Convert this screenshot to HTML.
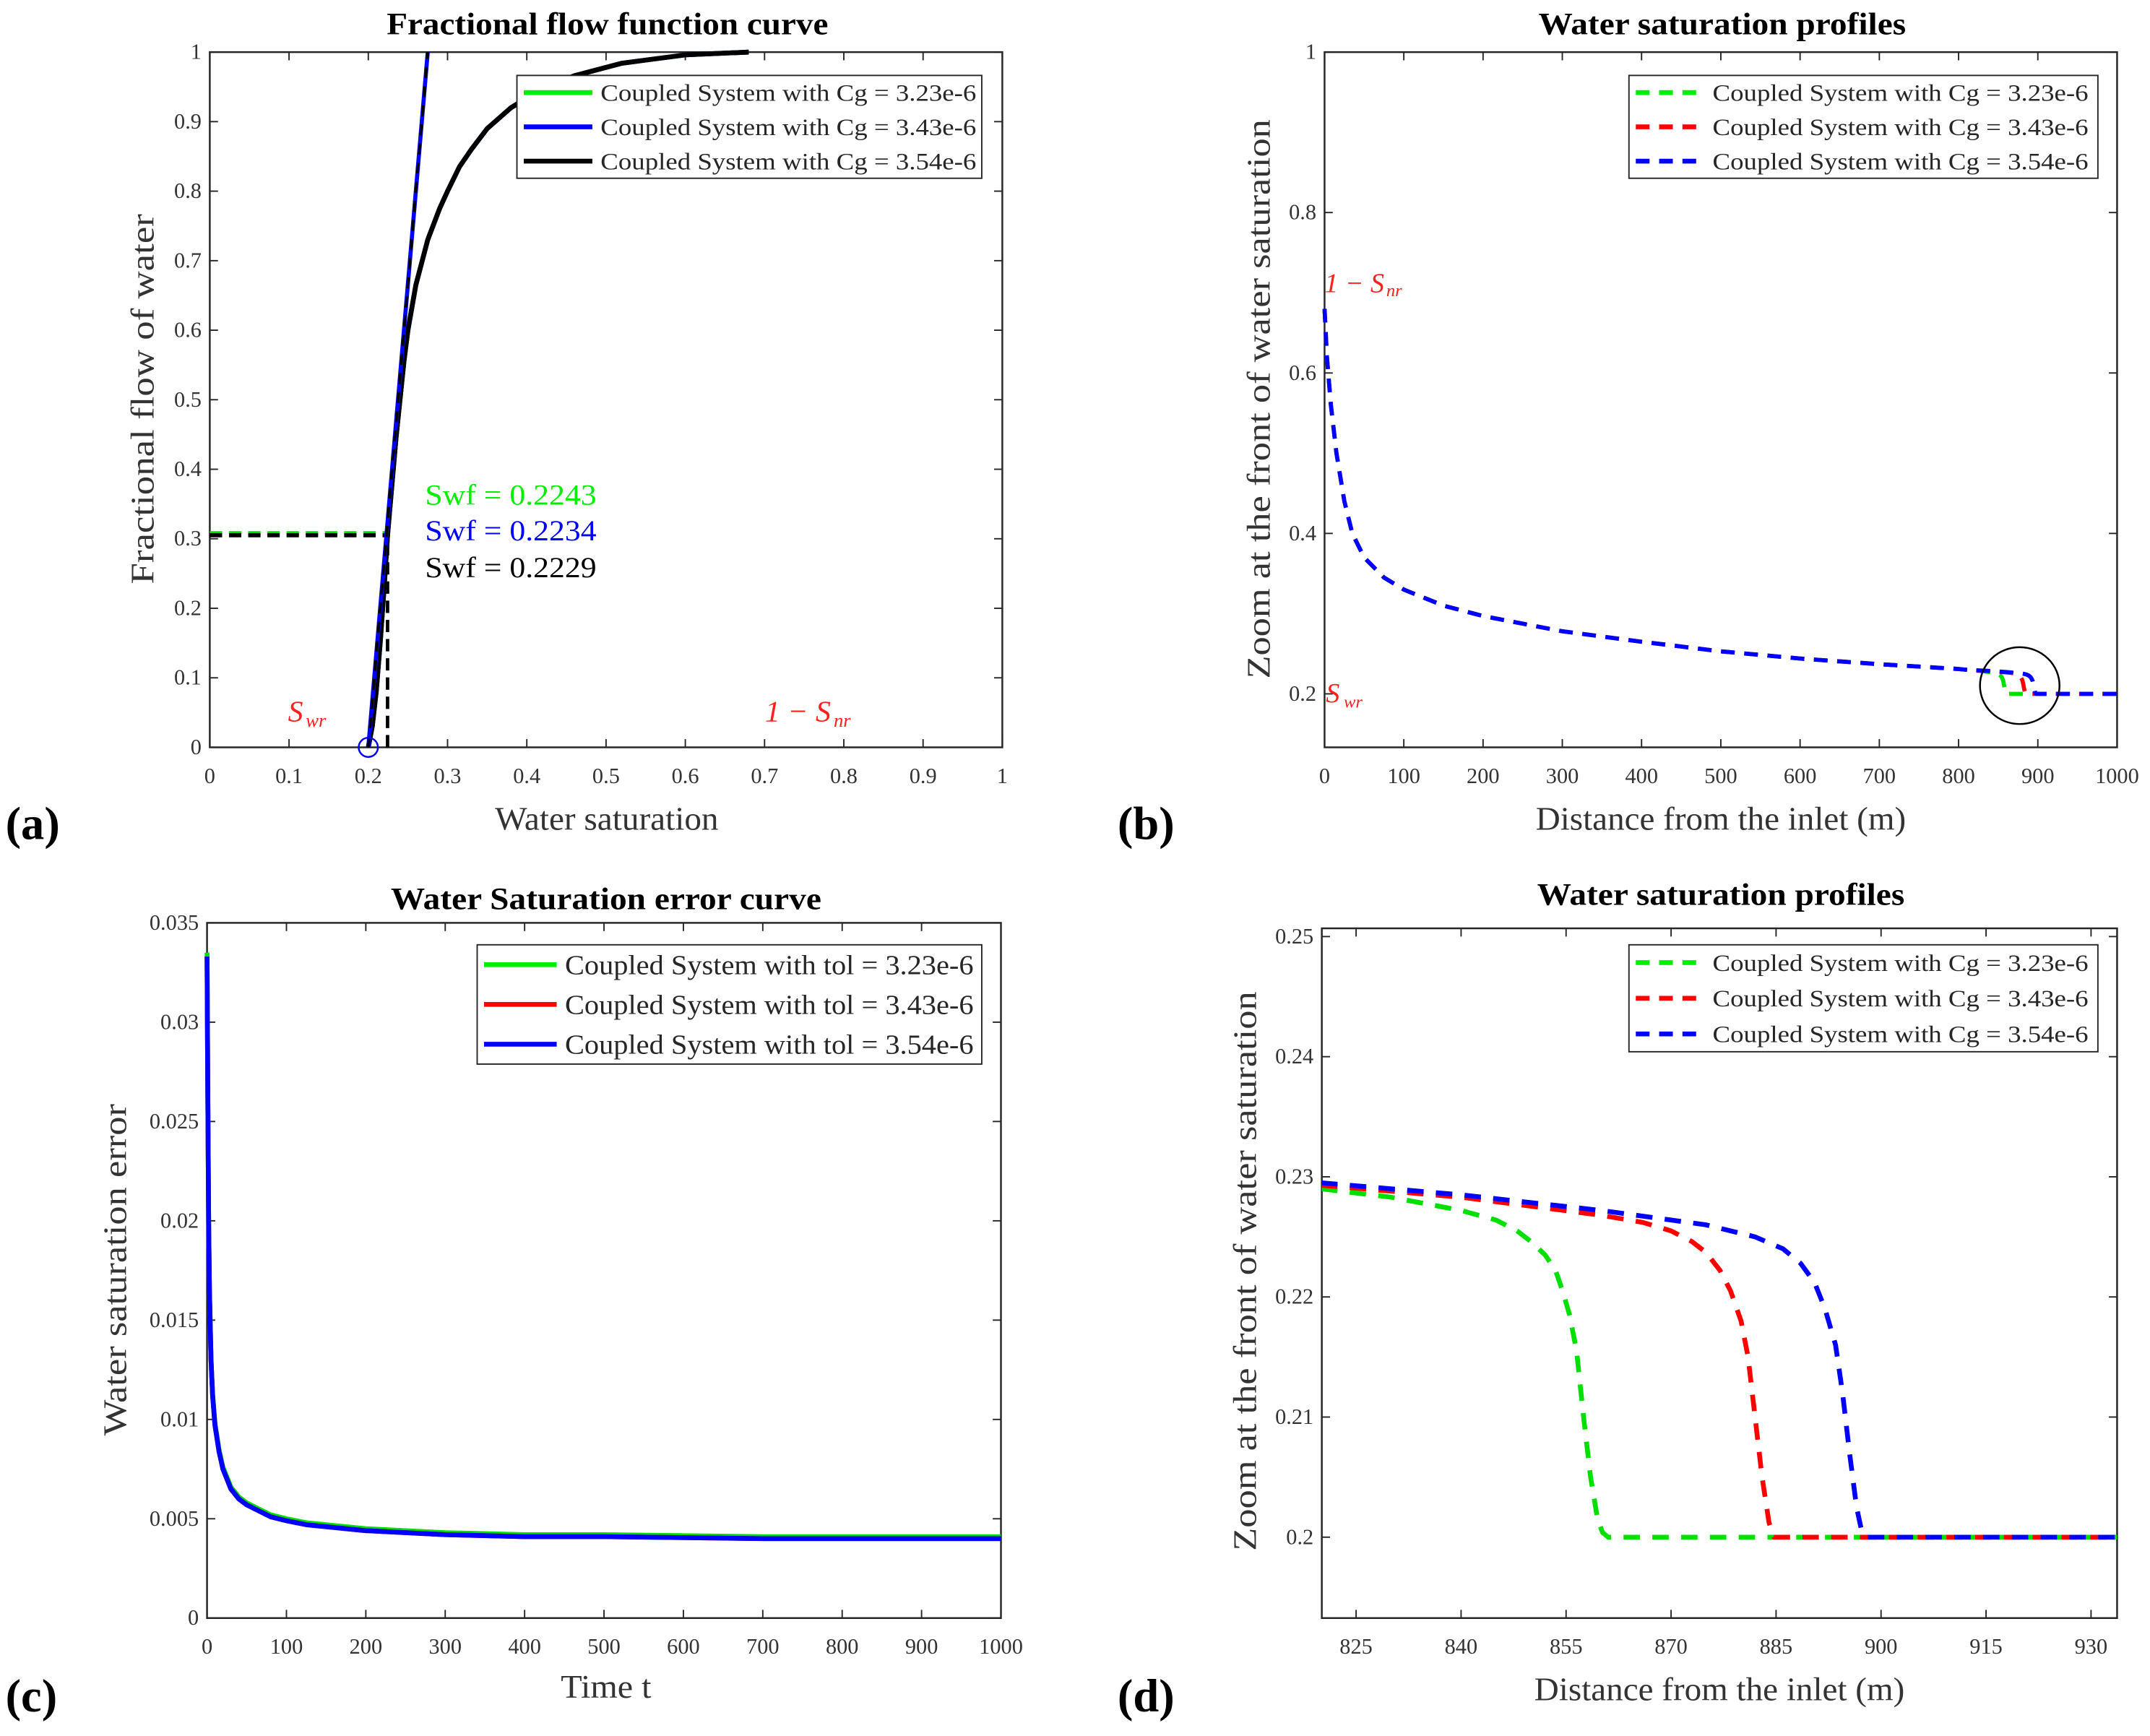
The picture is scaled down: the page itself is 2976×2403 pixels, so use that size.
<!DOCTYPE html>
<html><head><meta charset="utf-8"><style>
html,body{margin:0;padding:0;background:#fff;}
svg{display:block;}
text{font-family:"Liberation Serif",serif;}
</style></head><body>
<svg id="fig" xmlns="http://www.w3.org/2000/svg" width="2976" height="2403" viewBox="0 0 1568 1266" preserveAspectRatio="none"></svg>
<script>
// ---------- data ----------
const fracSw = [0.2,0.205,0.21,0.215,0.22,0.2243,0.23,0.235,0.24,0.245,0.25,0.26,0.275,0.29,0.3,0.315,0.33,0.35,0.38,0.42,0.46,0.52,0.6,0.68];
const fracFw = [0,0.03,0.08,0.15,0.23,0.305,0.38,0.445,0.5,0.555,0.6,0.665,0.73,0.775,0.8,0.835,0.86,0.89,0.92,0.948,0.966,0.984,0.996,1.0];
const tangentSw = [0.2,0.275];
const tangentFw = [0,1];
const swfValues = [0.2243,0.2234,0.2229];
const fwAtFront = 0.305;

const profX = [0,3,8,15,25,35,50,75,100,150,200,300,400,500,600,700,800,820];
const profY = [0.68,0.62,0.56,0.5,0.44,0.40,0.37,0.345,0.33,0.31,0.297,0.278,0.265,0.253,0.244,0.237,0.231,0.229];

const greenX = [820,830,840,845,848,850,852,853.5,854.5,855.5,856.5,857.5,858.5,859.5,860.2,861,1000];
const greenY = [0.2290,0.2283,0.2272,0.2264,0.2255,0.2246,0.2235,0.2222,0.2205,0.2185,0.2155,0.2100,0.2050,0.2015,0.2004,0.2,0.2];
const redX = [820,840,860,866,870,873,875,877,878.5,880,881,882,883,884,884.7,1000];
const redY = [0.2293,0.2283,0.2268,0.2262,0.2255,0.2246,0.2237,0.2222,0.2205,0.2180,0.2150,0.2100,0.2050,0.2012,0.2,0.2];
const blueX = [820,840,860,875,882,886,888.5,890.5,892,893.5,894.5,895.5,896.5,897.2,898,1000];
const blueY = [0.2295,0.2285,0.2272,0.2260,0.2250,0.2240,0.2228,0.2212,0.2190,0.2160,0.2120,0.2070,0.2025,0.2006,0.2,0.2];

const errT = [0,1,2,3,5,7,10,15,20,30,40,50,65,80,100,125,150,200,250,300,400,500,700,1000];
const errGreen = [0.0335,0.026,0.02,0.0165,0.013,0.0113,0.0098,0.0085,0.0076,0.0066,0.0061,0.0058,0.0055,0.0052,0.0050,0.0048,0.0047,0.0045,0.0044,0.0043,0.0042,0.0042,0.0041,0.0041];
const errRed = [0.0333,0.026,0.02,0.0165,0.013,0.0112,0.0097,0.0084,0.0075,0.0065,0.0060,0.0057,0.0054,0.0051,0.0049,0.0047,0.0046,0.0044,0.0043,0.0042,0.0041,0.0041,0.0040,0.0040];
const errBlue = [0.0333,0.026,0.02,0.0165,0.013,0.0112,0.0097,0.0084,0.0075,0.0065,0.0060,0.0057,0.0054,0.0051,0.0049,0.0047,0.0046,0.0044,0.0043,0.0042,0.0041,0.0041,0.0040,0.0040];

const ticksA = [0,0.1,0.2,0.3,0.4,0.5,0.6,0.7,0.8,0.9,1];
const ticksBx = [0,100,200,300,400,500,600,700,800,900,1000];
const ticksBy = [0.2,0.4,0.6,0.8,1];
const ticksCx = [0,100,200,300,400,500,600,700,800,900,1000];
const ticksCy = [0,0.005,0.01,0.015,0.02,0.025,0.03,0.035];
const ticksCyLbl = ['0','0.005','0.01','0.015','0.02','0.025','0.03','0.035'];
const ticksDx = [825,840,855,870,885,900,915,930];
const ticksDy = [0.2,0.21,0.22,0.23,0.24,0.25];

// ---------- helpers ----------
const NS='http://www.w3.org/2000/svg';
const svg=document.getElementById('fig');
function el(tag,attrs,parent){const e=document.createElementNS(NS,tag);for(const k in attrs)e.setAttribute(k,attrs[k]);(parent||svg).appendChild(e);return e;}
function txt(s,attrs,parent){const e=el('text',attrs,parent);e.textContent=s;return e;}
function scale(d0,d1,r0,r1){return v=>r0+(v-d0)/(d1-d0)*(r1-r0);}
function pathD(xs,ys,sx,sy){return xs.map((x,i)=>(i?'L':'M')+sx(x).toFixed(2)+','+sy(ys[i]).toFixed(2)).join('');}

function axes(box,sx,sy,xt,xl,yt,yl,name){
  const g=el('g',{});
  
  
  const r=el('rect',{x:box.l,y:box.t,width:box.r-box.l,height:box.b-box.t,fill:'none',stroke:'#262626','stroke-width':1.3},g);
  
  
  xt.forEach((v,i)=>{const x=sx(v);
    el('line',{x1:x,y1:box.b,x2:x,y2:box.b-6,stroke:'#262626','stroke-width':1},g);
    el('line',{x1:x,y1:box.t,x2:x,y2:box.t+6,stroke:'#262626','stroke-width':1},g);
    const t=txt(xl[i],{x:x,y:box.b+26,'font-size':16,'text-anchor':'middle',fill:'#333'},g);
    
    
  });
  yt.forEach((v,i)=>{const y=sy(v);
    el('line',{x1:box.l,y1:y,x2:box.l+6,y2:y,stroke:'#262626','stroke-width':1},g);
    el('line',{x1:box.r,y1:y,x2:box.r-6,y2:y,stroke:'#262626','stroke-width':1},g);
    const t=txt(yl[i],{x:box.l-6,y:y+5,'font-size':16,'text-anchor':'end',fill:'#333'},g);
    
    
  });
}
function series(xs,ys,sx,sy,color,dash,w,name){
  const p=el('path',{d:pathD(xs,ys,sx,sy),fill:'none',stroke:color,'stroke-width':w,'stroke-dasharray':dash||'none','stroke-linejoin':'round'});
  
  
  return p;
}
function legend(x,y,w,h,rows,lineLen,fs,tl,dash,name){
  const g=el('g',{});
  
  
  el('rect',{x:x,y:y,width:w,height:h,fill:'#fff',stroke:'#262626','stroke-width':1},g);
  const rh=h/rows.length;
  rows.forEach((r,i)=>{const cy=y+rh*(i+0.5);
    el('line',{x1:x+5,y1:cy,x2:x+5+lineLen,y2:cy,stroke:r[0],'stroke-width':3.5,'stroke-dasharray':dash||'none'},g);
    const t=txt(r[1],{x:x+11+lineLen,y:cy+fs*0.35,'font-size':fs,fill:'#262626',textLength:tl,lengthAdjust:'spacingAndGlyphs'},g);
    
    
  });
}
function label(s,attrs,name){const t=txt(s,attrs);return t;}
const TL={lengthAdjust:'spacingAndGlyphs'};
function A(o){return Object.assign({},TL,o);}

// ---------- panel a ----------
(function(){
  const box={l:153,r:731,t:38,b:545};
  const sx=scale(0,1,box.l,box.r), sy=scale(0,1,box.b,box.t);
  axes(box,sx,sy,ticksA,ticksA.map(String),ticksA,ticksA.map(String),'panel-a');
  series([0,swfValues[0]],[fwAtFront+0.003,fwAtFront+0.003],sx,sy,'#00e000','9,5',3,'front-line-green');
  series([0,swfValues[2]],[fwAtFront,fwAtFront],sx,sy,'#000','9,5',3,'front-line-black');
  series([swfValues[0],swfValues[0]],[0,fwAtFront],sx,sy,'#000','9,5',2.5,'swf-vertical-line');
  series(fracSw,fracFw,sx,sy,'#00e000','',3.5,'frac-flow-green');
  series(fracSw,fracFw,sx,sy,'#0000ff','',3.5,'frac-flow-blue');
  series(fracSw,fracFw,sx,sy,'#000','',3.5,'frac-flow-black');
  series(tangentSw,tangentFw,sx,sy,'#0000ff','',3,'tangent-blue');
  series(tangentSw,tangentFw,sx,sy,'#000','8,6',2,'tangent-black');
  const c=el('circle',{cx:sx(0.2),cy:sy(0),r:7,fill:'none',stroke:'#0000ff','stroke-width':1.3});
  
  
  label('Fractional flow function curve',A({x:282,y:25,'font-size':23,'font-weight':'bold',fill:'#000',textLength:322}),'panel-a-title');
  label('Water saturation',A({x:361,y:605,'font-size':24,fill:'#333',textLength:163}),'panel-a-x-axis-title');
  label('Fractional flow of water',A({x:0,y:0,'font-size':24,'text-anchor':'middle',fill:'#333',textLength:270,transform:'translate(112,291) rotate(-90)'}),'panel-a-y-axis-title');
  label('Swf = 0.2243',A({x:310,y:368,'font-size':21,fill:'#00ee00',textLength:125}),'swf-green-label');
  label('Swf = 0.2234',A({x:310,y:394,'font-size':21,fill:'#0000ff',textLength:125}),'swf-blue-label');
  label('Swf = 0.2229',A({x:310,y:421,'font-size':21,fill:'#000',textLength:125}),'swf-black-label');
  label('S',{x:210,y:526,'font-size':22,'font-style':'italic',fill:'#ff2020'},'swr-label');
  label('wr',{x:223,y:530,'font-size':14,'font-style':'italic',fill:'#ff2020'},'swr-subscript');
  label('1 − S',{x:558,y:526,'font-size':22,'font-style':'italic',fill:'#ff2020'},'one-minus-snr-label');
  label('nr',{x:608,y:530,'font-size':14,'font-style':'italic',fill:'#ff2020'},'snr-subscript');
  legend(377,55,339,75,[['#00ee00','Coupled System with Cg = 3.23e-6'],['#0000ff','Coupled System with Cg = 3.43e-6'],['#000','Coupled System with Cg = 3.54e-6']],50,17,274,'','panel-a-legend');
  label('(a)',{x:4,y:612,'font-size':34,'font-weight':'bold',fill:'#000'},'panel-a-letter');
})();

// ---------- panel b ----------
(function(){
  const box={l:966,r:1544,t:38,b:545};
  const sx=scale(0,1000,box.l,box.r), sy=scale(0.2,1,506,38);
  axes(box,sx,sy,ticksBx,ticksBx.map(String),ticksBy,ticksBy.map(String),'panel-b');
  const cols=[['#00e000',greenX,greenY,'profile-green'],['#ff0000',redX,redY,'profile-red'],['#0000ff',blueX,blueY,'profile-blue']];
  cols.forEach(c=>{
    series(profX.concat(c[1]),profY.concat(c[2]),sx,sy,c[0],'10,7',3,c[3]);
  });
  const e=el('ellipse',{cx:1473,cy:500,rx:29,ry:28,fill:'none',stroke:'#000','stroke-width':1.3});
  
  
  label('Water saturation profiles',A({x:1122,y:25,'font-size':23,'font-weight':'bold',fill:'#000',textLength:268}),'panel-b-title');
  label('Distance from the inlet (m)',A({x:1120,y:605,'font-size':24,fill:'#333',textLength:270}),'panel-b-x-axis-title');
  label('Zoom at the front of water saturation',A({x:0,y:0,'font-size':24,'text-anchor':'middle',fill:'#333',textLength:408,transform:'translate(926,291) rotate(-90)'}),'panel-b-y-axis-title');
  label('1 − S',{x:966,y:213,'font-size':20,'font-style':'italic',fill:'#ff2020'},'one-minus-snr-label-b');
  label('nr',{x:1011,y:216,'font-size':13,'font-style':'italic',fill:'#ff2020'},'snr-subscript-b');
  label('S',{x:967,y:512,'font-size':20,'font-style':'italic',fill:'#ff2020'},'swr-label-b');
  label('wr',{x:980,y:516,'font-size':13,'font-style':'italic',fill:'#ff2020'},'swr-subscript-b');
  legend(1188,55,342,75,[['#00ee00','Coupled System with Cg = 3.23e-6'],['#ff0000','Coupled System with Cg = 3.43e-6'],['#0000ff','Coupled System with Cg = 3.54e-6']],50,17,274,'10,7','panel-b-legend');
  label('(b)',{x:815,y:612,'font-size':34,'font-weight':'bold',fill:'#000'},'panel-b-letter');
})();

// ---------- panel c ----------
(function(){
  const box={l:151,r:730,t:673,b:1180};
  const sx=scale(0,1000,box.l,box.r), sy=scale(0,0.035,box.b,box.t);
  axes(box,sx,sy,ticksCx,ticksCx.map(String),ticksCy,ticksCyLbl,'panel-c');
  series(errT,errGreen,sx,sy,'#00e000','',3.5,'error-green');
  series(errT,errRed,sx,sy,'#ff0000','',3.5,'error-red');
  series(errT,errBlue,sx,sy,'#0000ff','',3.5,'error-blue');
  label('Water Saturation error curve',A({x:285,y:663,'font-size':23,'font-weight':'bold',fill:'#000',textLength:314}),'panel-c-title');
  label('Time t',A({x:409,y:1238,'font-size':24,fill:'#333',textLength:66}),'panel-c-x-axis-title');
  label('Water saturation error',A({x:0,y:0,'font-size':24,'text-anchor':'middle',fill:'#333',textLength:242,transform:'translate(92,926) rotate(-90)'}),'panel-c-y-axis-title');
  legend(348,689,368,87,[['#00ee00','Coupled System with tol = 3.23e-6'],['#ff0000','Coupled System with tol = 3.43e-6'],['#0000ff','Coupled System with tol = 3.54e-6']],53,20,298,'','panel-c-legend');
  label('(c)',{x:4,y:1248,'font-size':34,'font-weight':'bold',fill:'#000'},'panel-c-letter');
})();

// ---------- panel d ----------
(function(){
  const box={l:964,r:1544,t:677,b:1180};
  const sx=scale(825,930,989,1525), sy=scale(0.2,0.25,1121,683);
  axes(box,sx,sy,ticksDx,ticksDx.map(String),ticksDy,ticksDy.map(String),'panel-d');
  const clip=el('clipPath',{id:'clipd'});
  el('rect',{x:box.l,y:box.t,width:box.r-box.l,height:box.b-box.t},clip);
  const g=el('g',{'clip-path':'url(#clipd)'});
  
  
  [['#00e000',greenX,greenY,'zoom-green'],['#ff0000',redX,redY,'zoom-red'],['#0000ff',blueX,blueY,'zoom-blue']].forEach(c=>{
    const p=series(c[1],c[2],sx,sy,c[0],'12,9',3.5,c[3]); g.appendChild(p);
  });
  label('Water saturation profiles',A({x:1121,y:660,'font-size':23,'font-weight':'bold',fill:'#000',textLength:268}),'panel-d-title');
  label('Distance from the inlet (m)',A({x:1119,y:1240,'font-size':24,fill:'#333',textLength:270}),'panel-d-x-axis-title');
  label('Zoom at the front of water saturation',A({x:0,y:0,'font-size':24,'text-anchor':'middle',fill:'#333',textLength:408,transform:'translate(916,927) rotate(-90)'}),'panel-d-y-axis-title');
  legend(1188,689,342,78,[['#00ee00','Coupled System with Cg = 3.23e-6'],['#ff0000','Coupled System with Cg = 3.43e-6'],['#0000ff','Coupled System with Cg = 3.54e-6']],50,17,274,'10,7','panel-d-legend');
  label('(d)',{x:815,y:1248,'font-size':34,'font-weight':'bold',fill:'#000'},'panel-d-letter');
})();
</script>
</body></html>
